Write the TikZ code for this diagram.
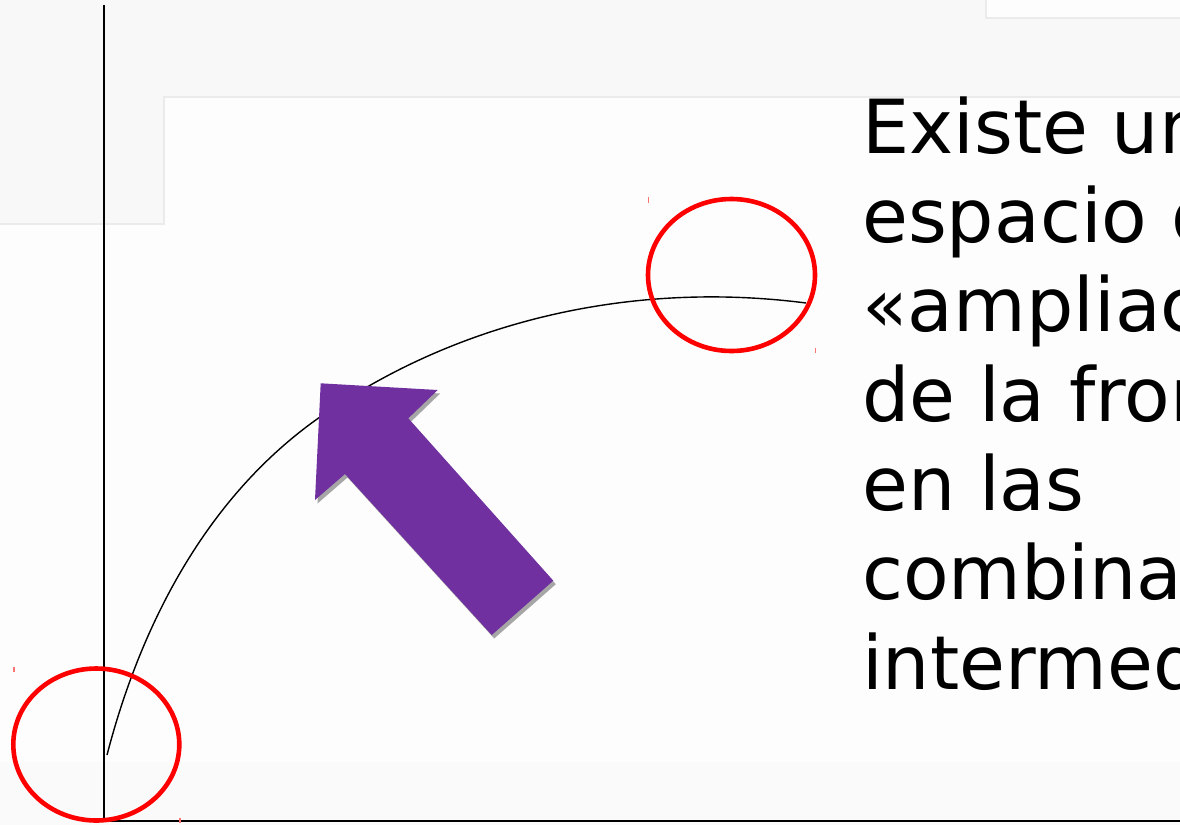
\documentclass[tikz,border=0pt]{standalone}
\usepackage{fontspec}
\setmainfont{DejaVu Sans}
\begin{document}
\begin{tikzpicture}[x=1pt,y=-1pt,
  txt/.style={anchor=base west,inner sep=0pt,font=\fontsize{74.6pt}{89.3pt}\selectfont},
  axisline/.style={draw=black,line width=1.6pt},
  ring/.style={draw=red,line width=4.6pt},
  handle/.style={draw=red!55,line width=1.2pt}]
\definecolor{bgA}{HTML}{FDFDFD}
\definecolor{bgB}{HTML}{F8F8F8}
\definecolor{bgC}{HTML}{FAFAFA}
\definecolor{edge}{HTML}{EBEBEB}
\definecolor{arrowpurple}{HTML}{7030A0}
\definecolor{shadowgray}{HTML}{A6A6A6}
\useasboundingbox (0,0) rectangle (1180,825);
\clip (0,0) rectangle (1180,825);
% background
\fill[bgA] (0,0) rectangle (1180,825);
\fill[bgC] (0,762) rectangle (1180,825);
\fill[bgB] (0,0) -- (1180,0) -- (1180,97) -- (164,97) -- (164,224) -- (0,224) -- cycle;
\draw[edge,line width=1.5pt] (1180,97) -- (164,97) -- (164,224) -- (0,224);
\draw[edge,fill=bgA,line width=1.5pt] (986,-5) rectangle (1185,18);
% axes
\coordinate (ytop) at (104,5);
\coordinate (orig) at (104,821);
\coordinate (xend) at (1180,821);
\draw[axisline] (ytop) -- (orig);
\draw[draw=black,line width=2pt] (orig) -- (xend);
% curve
\coordinate (cstart) at (107,755);
\coordinate (cmid) at (320,417);
\coordinate (cend) at (806,303);
\draw[black,line width=1.4pt] (cstart) .. controls (141.4,622.4) and (207.8,495.5) .. (cmid)
  .. controls (460.9,318.4) and (635.7,281.0) .. (cend);
% red ellipses
\draw[ring] (96.3,744.5) ellipse [x radius=83,y radius=76];
\draw[ring] (731.5,275) ellipse [x radius=83.5,y radius=76];
% selection marks
\draw[handle] (14,667) -- (14,672);
\draw[handle] (180,818) -- (180,823);
\draw[handle] (648.5,197) -- (648.5,203);
\draw[handle] (815.5,348) -- (815.5,353);
% purple arrow with shadow
\fill[shadowgray,shift={(2.5,3.5)}] (320.7,383.3) -- (437.7,390) -- (408.3,418.3) -- (553.3,580.7) -- (491.7,635) -- (345,474) -- (315,500) -- cycle;
\fill[arrowpurple] (320.7,383.3) -- (437.7,390) -- (408.3,418.3) -- (553.3,580.7) -- (491.7,635) -- (345,474) -- (315,500) -- cycle;
% text
\node[txt] (l1) at (862,153.3) {Existe un};
\node[txt] (l2) at (862,242.6) {espacio de};
\node[txt] (l3) at (862,331.9) {«ampliación};
\node[txt] (l4) at (862,421.2) {de la frontera»};
\node[txt] (l5) at (862,510.5) {en las};
\node[txt] (l6) at (862,599.8) {combinaciones};
\node[txt] (l7) at (862,689.1) {intermedias};
\end{tikzpicture}
\end{document}
